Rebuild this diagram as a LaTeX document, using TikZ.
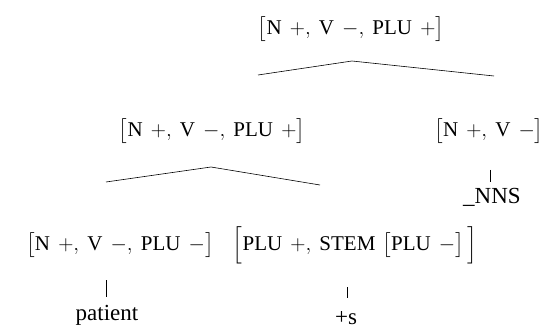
\RequirePackage{fix-cm}
\documentclass[tikz,border=0pt]{standalone}
\usepackage{amsmath}
\usepackage{fontspec}
\setmainfont{Liberation Serif}
\usetikzlibrary{positioning}
\newcommand{\fsc}[1]{\mbox{\fontsize{21}{23}\selectfont #1}}
\newcommand{\pl}{\mskip7mu{+}}
\newcommand{\mi}{\mskip7mu{-}}
\newcommand{\sep}{,\mskip4mu}
\newcommand{\fstrut}{\vrule height 19pt depth 0pt width 0pt}
\tikzset{
  feat/.style={inner sep=0pt, font=\fontsize{21}{25}\selectfont},
  word/.style={inner sep=0pt, font=\fontsize{23}{27}\selectfont},
  branch/.style={line width=0.6pt},
}
\begin{document}
\begin{tikzpicture}[x=1pt, y=-1pt]
    \useasboundingbox (0,0) rectangle (550,329);
    % feature nodes
    \node[feat] (top) at (351,29) {$\big[\fsc{N}\pl\sep\fsc{V}\mi\sep\fsc{PLU}\pl\big]$};
    \node[feat] (np) at (212,131) {$\big[\fsc{N}\pl\sep\fsc{V}\mi\sep\fsc{PLU}\pl\big]$};
    \node[feat] (nns) at (489,131) {$\big[\fsc{N}\pl\sep\fsc{V}\mi\big]$};
    \node[feat] (stem) at (120,245) {$\big[\fsc{N}\pl\sep\fsc{V}\mi\sep\fsc{PLU}\mi\big]$};
    \node[feat] (affix) at (355,245) {$\Big[\fsc{PLU}\pl\sep\fsc{STEM}\,\left[\fstrut\fsc{PLU}\mi\right]\Big]$};
    % words
    \node[word] (tag) at (492,197) {\_NNS};
    \node[word] (patient) at (107,315) {patient};
    \node[word] (s) at (346,318) {+s};
    % branches
    \coordinate (topL) at (258,75);
    \coordinate (topA) at (352,61);
    \coordinate (topR) at (494,76);
    \draw[branch] (topL) -- (topA) -- (topR);
    \coordinate (npL) at (106,182);
    \coordinate (npA) at (211,167);
    \coordinate (npR) at (320,185);
    \draw[branch] (npL) -- (npA) -- (npR);
    \coordinate (tagT) at (490,170);
    \coordinate (tagB) at (490,182);
    \draw[branch] (tagT) -- (tagB);
    \coordinate (stemT) at (106,280);
    \coordinate (stemB) at (106,297);
    \draw[branch] (stemT) -- (stemB);
    \coordinate (affixT) at (347,287);
    \coordinate (affixB) at (347,298);
    \draw[branch] (affixT) -- (affixB);
\end{tikzpicture}
\end{document}
